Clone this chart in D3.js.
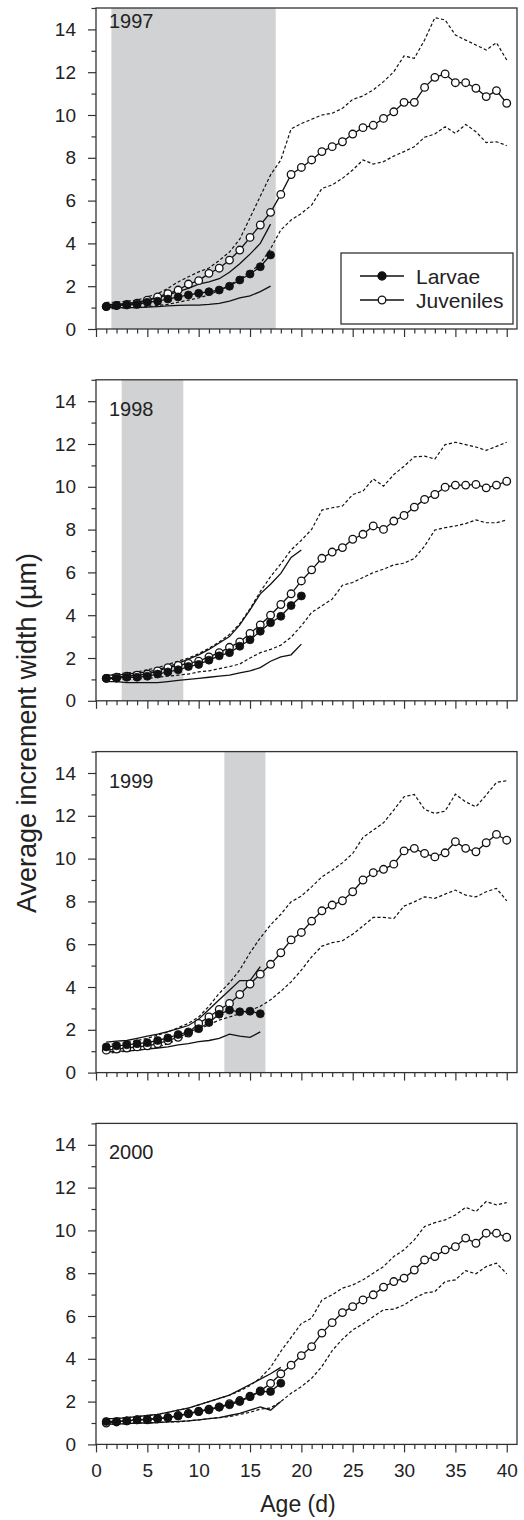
<!DOCTYPE html>
<html>
<head>
<meta charset="utf-8">
<script src="https://cdn.jsdelivr.net/npm/d3@7"></script>
<style>
  body { margin: 0; background: #fff; }
  svg text { font-family: "Liberation Sans", Arial, Helvetica, sans-serif; fill: #222; }
</style>
</head>
<body>
<svg id="chart" width="524" height="1520"></svg>
<script>
// ages (d) and tick values
const ages = [1,2,3,4,5,6,7,8,9,10,11,12,13,14,15,16,17,18,19,20,21,22,23,24,25,26,27,28,29,30,31,32,33,34,35,36,37,38,39,40];
const xTicks = [0,5,10,15,20,25,30,35,40];
const xMinor = [1,2,3,4,6,7,8,9,11,12,13,14,16,17,18,19,21,22,23,24,26,27,28,29,31,32,33,34,36,37,38,39];
const yTicks = [0,2,4,6,8,10,12,14];
const yMinor = [1,3,5,7,9,11,13,15];
const years = ["1997","1998","1999","2000"];
const legendLabels = ["Larvae","Juveniles"];

// shaded age ranges
const shade1997 = [1.5, 17.5];
const shade1998 = [2.5, 8.5];
const shade1999 = [12.5, 16.5];
const shade2000 = null;

// 1997
const larvae1997   = [1.05,1.1,1.12,1.15,1.25,1.3,1.4,1.5,1.59,1.67,1.74,1.82,2.0,2.29,2.57,2.91,3.46];
const larvaeHi1997 = [1.15,1.15,1.2,1.25,1.35,1.45,1.6,1.75,1.9,2.1,2.2,2.35,2.65,3.05,3.5,4.0,4.9];
const larvaeLo1997 = [1.0,1.0,1.0,1.0,1.02,1.05,1.08,1.1,1.12,1.12,1.15,1.2,1.3,1.45,1.55,1.75,2.0];
const juv1997   = [1.05,1.1,1.15,1.2,1.35,1.5,1.65,1.82,2.1,2.26,2.6,2.84,3.22,3.69,4.28,4.86,5.45,6.29,7.22,7.55,7.9,8.29,8.52,8.75,9.11,9.41,9.52,9.84,10.15,10.59,10.59,11.29,11.76,11.92,11.51,11.51,11.25,10.86,11.14,10.55];
const juvHi1997 = [1.25,1.25,1.3,1.35,1.5,1.65,1.9,2.2,2.44,2.67,2.85,3.2,3.6,4.2,5.2,6.2,7.2,7.9,9.35,9.6,9.8,10.0,10.08,10.31,10.73,10.89,11.17,11.56,12.02,12.76,12.65,13.5,14.55,14.44,13.74,13.5,13.27,13.04,13.38,12.57];
const juvLo1997 = [0.95,0.95,1.0,1.0,1.05,1.1,1.15,1.25,1.35,1.45,1.6,1.8,2.05,2.35,2.65,3.05,3.75,4.63,5.09,5.4,5.79,6.57,6.73,7.04,7.43,7.9,7.71,7.82,8.08,8.29,8.52,8.96,9.11,9.45,9.14,9.56,9.22,8.71,8.75,8.57];

// 1998
const larvae1998   = [1.05,1.05,1.1,1.1,1.15,1.25,1.35,1.45,1.6,1.7,1.9,2.1,2.25,2.55,2.85,3.25,3.65,3.95,4.45,4.9];
const larvaeHi1998 = [1.2,1.2,1.25,1.3,1.35,1.45,1.6,1.75,1.95,2.15,2.4,2.7,3.0,3.55,4.25,5.0,5.45,5.95,6.7,7.05];
const larvaeLo1998 = [0.9,0.9,0.85,0.85,0.85,0.85,0.9,0.95,1.0,1.05,1.1,1.15,1.2,1.3,1.4,1.55,1.85,2.05,2.15,2.65];
const juv1998   = [1.05,1.1,1.15,1.2,1.25,1.4,1.55,1.65,1.75,1.85,2.05,2.25,2.5,2.75,3.15,3.55,4.0,4.5,5.0,5.6,6.12,6.66,6.95,7.16,7.55,7.78,8.17,8.01,8.4,8.66,9.05,9.41,9.64,9.98,10.08,10.08,10.11,9.95,10.08,10.26];
const juvHi1998 = [1.2,1.25,1.3,1.35,1.45,1.55,1.7,1.85,2.0,2.2,2.45,2.75,3.1,3.6,4.3,5.1,5.8,6.4,7.05,7.5,8.01,8.91,9.02,9.1,9.64,9.8,10.37,10.03,10.57,10.96,11.4,11.43,11.3,11.97,12.08,11.97,11.86,11.7,11.89,12.08];
const juvLo1998 = [1.0,1.0,1.0,1.02,1.05,1.1,1.15,1.2,1.25,1.35,1.4,1.5,1.6,1.72,2.0,2.25,2.4,2.6,2.97,3.51,4.13,4.44,4.75,5.4,5.53,5.76,5.99,6.15,6.35,6.43,6.65,7.23,7.98,8.09,8.17,8.28,8.45,8.32,8.32,8.45];

// 1999
const larvae1999   = [1.2,1.25,1.3,1.35,1.4,1.5,1.62,1.78,1.9,2.05,2.34,2.73,2.92,2.84,2.87,2.75];
const larvaeHi1999 = [1.42,1.47,1.5,1.6,1.7,1.8,1.92,2.05,2.2,2.5,2.95,3.4,3.85,4.3,4.3,4.95];
const larvaeLo1999 = [0.95,1.0,1.0,1.05,1.1,1.15,1.2,1.3,1.35,1.45,1.5,1.6,1.8,1.7,1.65,1.9];
const juv1999   = [1.05,1.1,1.15,1.2,1.25,1.35,1.5,1.65,1.85,2.3,2.6,2.95,3.23,3.65,4.14,4.6,5.06,5.6,6.2,6.55,7.08,7.56,7.83,8.03,8.45,9.0,9.34,9.5,9.74,10.36,10.48,10.24,10.08,10.27,10.79,10.48,10.32,10.74,11.13,10.86];
const juvHi1999 = [1.3,1.35,1.4,1.5,1.6,1.75,1.9,2.1,2.3,2.6,3.1,3.7,4.2,4.8,5.6,6.3,6.9,7.4,7.98,8.25,8.68,9.15,9.46,9.8,10.24,10.99,11.33,11.67,12.27,12.89,13.0,12.3,12.11,12.22,13.01,12.65,12.42,12.97,13.56,13.64];
const juvLo1999 = [0.9,0.95,1.0,1.05,1.1,1.2,1.35,1.55,1.75,2.0,2.25,2.45,2.6,2.75,2.9,3.1,3.4,3.8,4.24,4.79,5.41,5.91,6.07,6.16,6.47,6.85,7.25,7.25,7.2,7.78,7.98,8.21,8.14,8.34,8.53,8.29,8.21,8.45,8.61,8.03];

// 2000
const larvae2000   = [1.07,1.07,1.1,1.15,1.18,1.22,1.25,1.33,1.43,1.53,1.61,1.74,1.85,2.0,2.23,2.47,2.47,2.86];
const larvaeHi2000 = [1.2,1.2,1.25,1.3,1.35,1.4,1.5,1.6,1.7,1.85,2.0,2.15,2.3,2.55,2.8,3.05,3.3,3.6];
const larvaeLo2000 = [0.95,0.95,0.97,1.0,1.0,1.02,1.05,1.08,1.1,1.15,1.2,1.25,1.35,1.45,1.6,1.75,1.6,2.0];
const juv2000   = [1.0,1.05,1.1,1.15,1.15,1.2,1.25,1.35,1.45,1.55,1.65,1.75,1.9,2.05,2.25,2.5,2.85,3.3,3.7,4.15,4.57,5.2,5.69,6.16,6.44,6.75,6.99,7.35,7.61,7.77,8.15,8.62,8.78,9.09,9.24,9.64,9.4,9.87,9.87,9.68];
const juvHi2000 = [1.2,1.22,1.25,1.3,1.35,1.4,1.5,1.6,1.7,1.85,2.0,2.15,2.3,2.5,2.75,3.1,3.6,4.35,5.0,5.65,5.9,6.75,6.99,7.3,7.45,7.69,8.0,8.31,8.78,9.09,9.56,10.18,10.36,10.49,10.72,11.08,10.88,11.35,11.19,11.3];
const juvLo2000 = [0.95,0.95,0.97,1.0,1.0,1.02,1.05,1.05,1.1,1.15,1.2,1.25,1.3,1.4,1.5,1.65,1.7,2.0,2.39,2.7,3.09,3.64,4.38,4.92,5.35,5.63,5.97,6.29,6.32,6.52,6.83,7.07,7.14,7.61,7.69,8.12,7.97,8.31,8.47,7.97];

const panels = [
  { year: years[0], shade: shade1997, larvae: larvae1997, larvaeHi: larvaeHi1997, larvaeLo: larvaeLo1997, juv: juv1997, juvHi: juvHi1997, juvLo: juvLo1997 },
  { year: years[1], shade: shade1998, larvae: larvae1998, larvaeHi: larvaeHi1998, larvaeLo: larvaeLo1998, juv: juv1998, juvHi: juvHi1998, juvLo: juvLo1998 },
  { year: years[2], shade: shade1999, larvae: larvae1999, larvaeHi: larvaeHi1999, larvaeLo: larvaeLo1999, juv: juv1999, juvHi: juvHi1999, juvLo: juvLo1999 },
  { year: years[3], shade: shade2000, larvae: larvae2000, larvaeHi: larvaeHi2000, larvaeLo: larvaeLo2000, juv: juv2000, juvHi: juvHi2000, juvLo: juvLo2000 }
];

// layout
const left = 96, plotW = 421, plotH = 321, top0 = 8, step = 371.8;
const yearDy = [20, 36, 36, 36];

const svg = d3.select("#chart");

const x = d3.scaleLinear().domain([0, 41]).range([0, plotW]);
const y = d3.scaleLinear().domain([0, 15]).range([plotH, 0]);

const toPts = arr => arr.map((v, i) => [ages[i], v]);
const line = d3.line().x(d => x(d[0])).y(d => y(d[1]));

panels.forEach((p, i) => {
  const g = svg.append("g")
    .attr("transform", `translate(${left}, ${top0 + i * step})`);

  // shaded period
  if (p.shade) {
    g.append("rect")
      .attr("x", x(p.shade[0]))
      .attr("y", 0)
      .attr("width", x(p.shade[1]) - x(p.shade[0]))
      .attr("height", plotH)
      .attr("fill", "#d1d2d4");
  }

  // frame
  g.append("rect")
    .attr("width", plotW)
    .attr("height", plotH)
    .attr("fill", "none")
    .attr("stroke", "#333")
    .attr("stroke-width", 1.3);

  // axes
  const isLast = i === panels.length - 1;
  g.append("g")
    .attr("transform", `translate(0, ${plotH})`)
    .call(d3.axisBottom(x).tickValues(xTicks).tickSize(8).tickPadding(11)
      .tickFormat(isLast ? d3.format("d") : () => ""));
  g.append("g")
    .attr("transform", `translate(0, ${plotH})`)
    .call(d3.axisBottom(x).tickValues(xMinor).tickSize(4.5).tickFormat(""));
  g.append("g")
    .call(d3.axisLeft(y).tickValues(yTicks).tickSize(8).tickPadding(12));
  g.append("g")
    .call(d3.axisLeft(y).tickValues(yMinor).tickSize(4.5).tickFormat(""));

  g.selectAll(".domain").remove();
  g.selectAll(".tick line").attr("stroke", "#333").attr("stroke-width", 1.2);
  g.selectAll(".tick text").attr("font-size", 19).attr("fill", "#222");

  // juvenile bounds (dashed)
  [p.juvHi, p.juvLo].forEach(arr => {
    g.append("path")
      .attr("d", line(toPts(arr)))
      .attr("fill", "none")
      .attr("stroke", "#111")
      .attr("stroke-width", 1.2)
      .attr("stroke-dasharray", "3.2,2.2");
  });

  // larval bounds (solid)
  [p.larvaeHi, p.larvaeLo].forEach(arr => {
    g.append("path")
      .attr("d", line(toPts(arr)))
      .attr("fill", "none")
      .attr("stroke", "#111")
      .attr("stroke-width", 1.3);
  });

  // juvenile mean
  g.append("path")
    .attr("d", line(toPts(p.juv)))
    .attr("fill", "none")
    .attr("stroke", "#111")
    .attr("stroke-width", 1.3);
  g.selectAll(".juv")
    .data(toPts(p.juv))
    .enter().append("circle")
    .attr("class", "juv")
    .attr("cx", d => x(d[0]))
    .attr("cy", d => y(d[1]))
    .attr("r", 3.8)
    .attr("fill", "#fff")
    .attr("stroke", "#111")
    .attr("stroke-width", 1.3);

  // larval mean
  g.append("path")
    .attr("d", line(toPts(p.larvae)))
    .attr("fill", "none")
    .attr("stroke", "#111")
    .attr("stroke-width", 1.3);
  g.selectAll(".lar")
    .data(toPts(p.larvae))
    .enter().append("circle")
    .attr("class", "lar")
    .attr("cx", d => x(d[0]))
    .attr("cy", d => y(d[1]))
    .attr("r", 4)
    .attr("fill", "#111")
    .attr("stroke", "#111")
    .attr("stroke-width", 0.8);

  // year label
  g.append("text")
    .attr("x", 13)
    .attr("y", yearDy[i])
    .attr("font-size", 20)
    .text(p.year);

  // legend (first panel only)
  if (i === 0) {
    const lg = g.append("g").attr("transform", "translate(245, 245)");
    lg.append("rect")
      .attr("width", 172)
      .attr("height", 71)
      .attr("fill", "#fff")
      .attr("stroke", "#333")
      .attr("stroke-width", 1.3);
    legendLabels.forEach((lab, k) => {
      const row = lg.append("g").attr("transform", `translate(0, ${23 + k * 24})`);
      row.append("line")
        .attr("x1", 19).attr("x2", 63)
        .attr("stroke", "#111").attr("stroke-width", 1.3);
      row.append("circle")
        .attr("cx", 41).attr("r", k === 0 ? 4 : 3.8)
        .attr("fill", k === 0 ? "#111" : "#fff")
        .attr("stroke", "#111").attr("stroke-width", 1.3);
      row.append("text")
        .attr("x", 75).attr("y", 7.5)
        .attr("font-size", 21)
        .text(lab);
    });
  }
});

// axis titles
svg.append("text")
  .attr("transform", "translate(27, 733) rotate(-90)")
  .attr("text-anchor", "middle")
  .attr("dominant-baseline", "central")
  .attr("font-size", 27)
  .text("Average increment width (µm)");

svg.append("text")
  .attr("x", 298)
  .attr("y", 1512)
  .attr("text-anchor", "middle")
  .attr("font-size", 23)
  .text("Age (d)");
</script>
</body>
</html>
